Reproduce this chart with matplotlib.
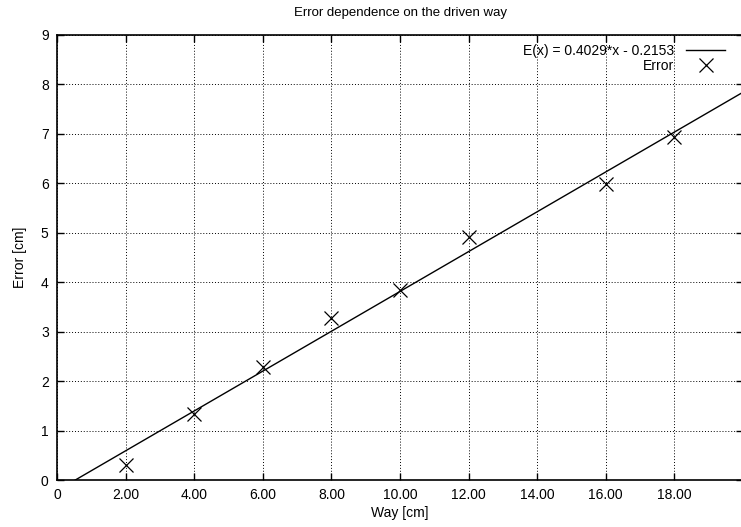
import matplotlib
matplotlib.use("Agg")
import matplotlib.pyplot as plt
import numpy as np

plt.rcParams['font.family'] = ['Liberation Sans', 'DejaVu Sans']

way = [2, 4, 6, 8, 10, 12, 16, 18]
error = [0.30, 1.33, 2.28, 3.27, 3.85, 4.92, 5.98, 6.93]
slope = 0.4029
intercept = -0.2153
xticks = [0, 2, 4, 6, 8, 10, 12, 14, 16, 18]
xticklabels = ["0", "2.00", "4.00", "6.00", "8.00", "10.00", "12.00", "14.00", "16.00", "18.00"]
yticks = [0, 1, 2, 3, 4, 5, 6, 7, 8, 9]

W, H = 741, 527
fig = plt.figure(figsize=(W / 100, H / 100), dpi=100)
left, right, top, bottom = 57, 743, 35, 480
ax = fig.add_axes([left / W, 1 - bottom / H, (right - left) / W, (bottom - top) / H])

xs = np.linspace(0, 20, 200)
ax.plot(xs, slope * xs + intercept, color='black', lw=1.0,
        label='E(x) = 0.4029*x - 0.2153')
ax.plot(way, error, linestyle='none', marker='x', color='black',
        markersize=10, markeredgewidth=0.9, label='Error')

ax.set_xlim(0, 20)
ax.set_ylim(0, 9)
ax.set_xticks(xticks)
ax.set_xticklabels(xticklabels)
ax.set_yticks(yticks)
ax.tick_params(direction='in', length=5, width=1.0, top=True, right=True,
               labelsize=10, pad=6, colors='black')
ax.grid(True, color='black', linestyle=(0, (1, 2)), linewidth=0.7)
for s in ax.spines.values():
    s.set_linewidth(1.2)

ax.set_title('Error dependence on the driven way', fontsize=9.5, pad=14)
ax.set_xlabel('Way [cm]', fontsize=10, labelpad=3)
ax.set_ylabel('Error [cm]', fontsize=10, labelpad=10)

leg = ax.legend(loc='upper right', markerfirst=False, frameon=False,
                fontsize=10, handlelength=2.8, handletextpad=0.9,
                borderaxespad=0.1, labelspacing=0.1,
                bbox_to_anchor=(0.984, 0.996))

fig.savefig('out.png', dpi=100)
